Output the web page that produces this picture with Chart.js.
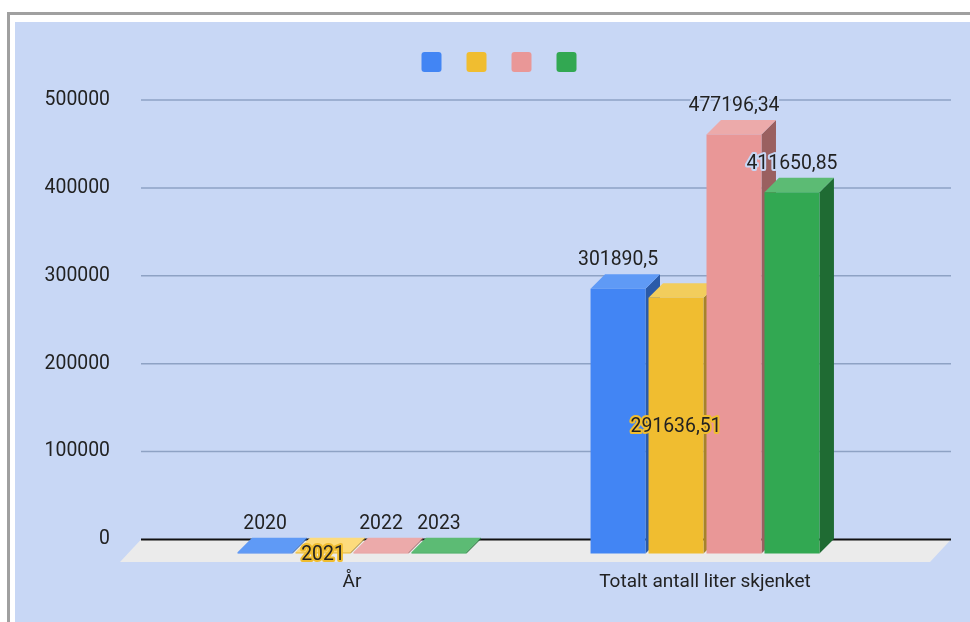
<!DOCTYPE html>
<html>
<head>
<meta charset="utf-8">
<title>Totalt antall liter skjenket</title>
<script src="https://cdn.jsdelivr.net/npm/chart.js@4"></script>
<style>
  html, body { margin: 0; background: #fff; overflow: hidden; }
  #frame { position: absolute; left: 7px; top: 12px; width: 970px; height: 620px;
           border: solid #a0a0a0; border-width: 3px 0 0 3px; }
  #panel { position: absolute; left: 15px; top: 22px; width: 955px; height: 600px; background: #c8d7f5; }
  #wrap { position: absolute; left: 0; top: 0; width: 970px; height: 622px; }
</style>
</head>
<body>
<div id="frame"></div>
<div id="panel"></div>
<div id="wrap"><canvas id="chart-1"></canvas></div>
<script>
const categories = ['År', 'Totalt antall liter skjenket'];
const series2020 = [2020, 301890.5];
const series2021 = [2021, 291636.51];
const series2022 = [2022, 477196.34];
const series2023 = [2023, 411650.85];
const frontColors = ['#4285f4', '#f0bd30', '#e99797', '#32a852'];
const topColors = ['#5f9af6', '#f2cd5c', '#ecaaaa', '#5cbb74'];
const sideColors = ['#2a5aa8', '#a6832a', '#9a6060', '#1f6b33'];

const DEPTH = 14.5;
const LABEL_FONT = '19.4px Roboto';

Chart.defaults.animation = false;
Chart.defaults.font.family = 'Roboto';

function fillPoly(ctx, color, pts) {
  ctx.fillStyle = color;
  ctx.beginPath();
  pts.forEach((p, i) => i ? ctx.lineTo(p[0], p[1]) : ctx.moveTo(p[0], p[1]));
  ctx.closePath();
  ctx.fill();
}

function drawLabel(ctx, text, x, y, halo) {
  ctx.font = LABEL_FONT;
  ctx.textAlign = 'center';
  ctx.textBaseline = 'middle';
  ctx.lineJoin = 'round';
  ctx.lineWidth = 4;
  ctx.strokeStyle = halo;
  ctx.strokeText(text, x, y);
  ctx.fillStyle = '#222';
  ctx.fillText(text, x, y);
}

// 3D look: floor and long grid lines behind, bars pushed forward by DEPTH
const fake3d = {
  id: 'fake3d',
  afterLayout(chart) {
    // legend sits centred over the whole panel, not the plot
    const legend = chart.legend;
    legend.left += 39;
    legend.right += 39;
    legend.top -= 18;
    legend.bottom -= 18;
  },
  beforeDatasetsDraw(chart) {
    const { ctx, chartArea, scales } = chart;
    const left = chartArea.left - 49, right = chartArea.right + 55;
    const zero = scales.y.getPixelForValue(0);
    fillPoly(ctx, '#ebebeb', [[left, zero], [right, zero], [right - 21, zero + 22.5], [left - 21, zero + 22.5]]);
    scales.y.ticks.forEach(t => {
      const y = scales.y.getPixelForValue(t.value);
      ctx.strokeStyle = t.value === 0 ? '#111' : '#8ea2c4';
      ctx.lineWidth = t.value === 0 ? 2 : 1.5;
      ctx.beginPath();
      ctx.moveTo(left, y);
      ctx.lineTo(right, y);
      ctx.stroke();
    });
  },
  beforeDatasetDraw() {
    return false;
  },
  afterDatasetsDraw(chart) {
    const { ctx } = chart;
    chart.data.datasets.forEach((ds, i) => {
      const meta = chart.getDatasetMeta(i);
      meta.data.forEach((bar, j) => {
        const l = bar.x - bar.width / 2 - DEPTH, r = bar.x + bar.width / 2 - DEPTH;
        const t = bar.y + DEPTH, b = bar.base + DEPTH;
        fillPoly(ctx, sideColors[i], [[r, t], [r + DEPTH, t - DEPTH], [r + DEPTH, b - DEPTH], [r, b]]);
        // the flat yellow bar has a brighter top than the tall one
        const top = i === 1 && j === 0 ? '#fddb7c' : topColors[i];
        fillPoly(ctx, top, [[l, t], [l + DEPTH, t - DEPTH], [r + DEPTH, t - DEPTH], [r, t]]);
      });
      ctx.save();
      ctx.translate(-DEPTH, DEPTH);
      meta.controller.draw();
      ctx.restore();
    });
    chart.data.datasets.forEach((ds, i) => {
      chart.getDatasetMeta(i).data.forEach((bar, j) => {
        const text = String(ds.data[j]).replace('.', ',');
        const x = bar.x - DEPTH;
        if (i === 1) {
          // yellow series has its labels inside the bar
          drawLabel(ctx, text, x, (bar.y + bar.base) / 2 + DEPTH + 2, frontColors[i]);
        } else {
          drawLabel(ctx, text, x, bar.y - 14, '#c8d7f5');
        }
      });
    });
  }
};

new Chart('chart-1', {
  type: 'bar',
  data: {
    labels: categories,
    datasets: [series2020, series2021, series2022, series2023].map((d, i) => ({
      label: '',
      data: d,
      backgroundColor: frontColors[i],
      categoryPercentage: 0.657,
      barPercentage: 0.948
    }))
  },
  options: {
    responsive: true,
    maintainAspectRatio: false,
    layout: { padding: { left: 30, right: 74, top: 51, bottom: 0 } },
    plugins: {
      tooltip: { enabled: false },
      legend: {
        position: 'top',
        onClick: null,
        labels: { boxWidth: 20, boxHeight: 20, padding: 19, useBorderRadius: true, borderRadius: 3,
                  font: { size: 12 } }
      }
    },
    scales: {
      x: {
        grid: { display: false },
        border: { display: false },
        ticks: { color: '#222', font: { size: 19 }, labelOffset: -DEPTH, padding: 23, maxRotation: 0 },
        afterFit(s) { s.height = 82.5; }
      },
      y: {
        min: 0,
        max: 500000,
        // transparent ticks push the labels out; ticks.padding would also eat plot height
        grid: { drawOnChartArea: false, drawTicks: true, tickLength: 76, tickColor: 'transparent' },
        border: { display: false },
        ticks: { stepSize: 100000, color: '#222', padding: 4, font: { size: 19.4 },
                 callback: v => String(v) },
        afterFit(s) { s.width = 160; }
      }
    }
  },
  plugins: [fake3d]
});
</script>
</body>
</html>
